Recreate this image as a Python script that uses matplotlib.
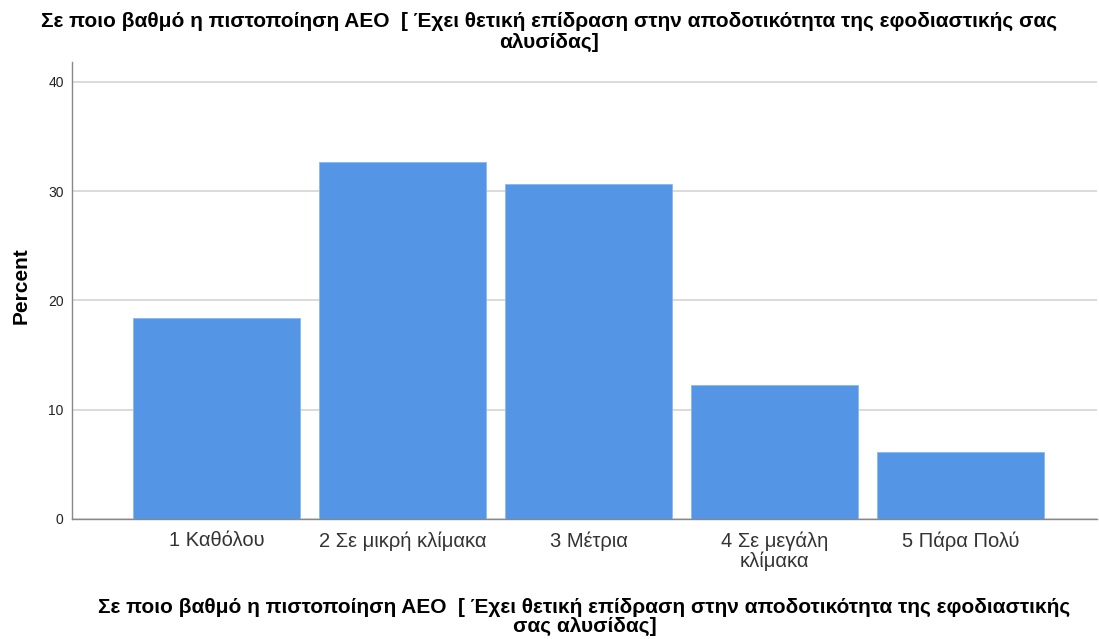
import matplotlib
matplotlib.use("Agg")
import matplotlib.pyplot as plt

categories = ["1 Καθόλου", "2 Σε μικρή κλίμακα", "3 Μέτρια", "4 Σε μεγάλη\nκλίμακα", "5 Πάρα Πολύ"]
percent = [18.37, 32.65, 30.61, 12.24, 6.12]
yticks = [0, 10, 20, 30, 40]
title = "Σε ποιο βαθμό η πιστοποίηση ΑΕΟ  [ Έχει θετική επίδραση στην αποδοτικότητα της εφοδιαστικής σας\nαλυσίδας]"
xlabel = "Σε ποιο βαθμό η πιστοποίηση ΑΕΟ  [ Έχει θετική επίδραση στην αποδοτικότητα της εφοδιαστικής\nσας αλυσίδας]"

plt.rcParams['font.family'] = ['Liberation Sans', 'DejaVu Sans']

fig = plt.figure(figsize=(10.99, 6.39), dpi=100)
ax = fig.add_axes([0.0655, 0.1878, 0.9325, 0.715])
x = list(range(len(categories)))
ax.bar(x, percent, width=0.9, color="#5595E5", edgecolor="#8AB8EE", linewidth=0.6, zorder=3)
ax.set_xlim(-0.777, 4.733)
ax.set_ylim(0, 41.8)
ax.set_yticks(yticks)
ax.set_yticklabels([str(t) for t in yticks], fontsize=10, color="#222222")
ax.set_xticks(x)
ax.set_xticklabels(categories, fontsize=14.5, color="#333333", linespacing=1.05)
ax.tick_params(axis='x', length=0, pad=9)
ax.tick_params(axis='y', length=0, pad=6)
ax.grid(axis='y', color="#D4D4D4", linewidth=1.2, zorder=0)
for s in ["top", "right"]:
    ax.spines[s].set_visible(False)
for s in ["left", "bottom"]:
    ax.spines[s].set_color("#888888")
    ax.spines[s].set_linewidth(1.0)
ax.set_ylabel("Percent", fontsize=15, fontweight="bold")
ax.yaxis.set_label_coords(-0.040, 0.51)
ax.set_xlabel(xlabel, fontsize=15, fontweight="bold", labelpad=19, linespacing=1.05)
fig.text(0.5, 0.982, title, ha="center", va="top", fontsize=15, fontweight="bold", linespacing=1.15)
fig.savefig("out.png", dpi=100, facecolor="white")
